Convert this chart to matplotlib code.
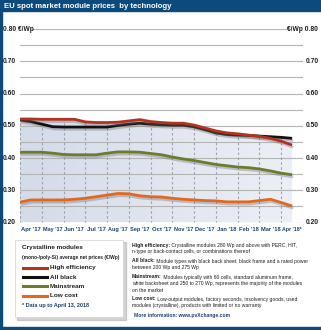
import numpy as np
import matplotlib
matplotlib.use("Agg")
import matplotlib.pyplot as plt
from matplotlib import patheffects as pe
from matplotlib import transforms
from matplotlib.patches import Rectangle, Polygon
from matplotlib.colors import LinearSegmentedColormap

plt.rcParams['font.family'] = ['Liberation Sans', 'DejaVu Sans']

# months on the x axis
months = ["Apr '17", "May '17", "Jun '17", "Jul '17", "Aug '17", "Sep '17", "Oct '17",
          "Nov '17", "Dec '17", "Jan '18", "Feb '18", "Mar '18", "Apr '18*"]

# price samples every half month, starting April 2017 (€/Wp)
t = [0, 0.5, 1, 1.5, 2, 2.5, 3, 3.5, 4, 4.5, 5, 5.5, 6, 6.5,
     7, 7.5, 8, 8.5, 9, 9.5, 10, 10.5, 11, 11.5, 12, 12.5]
high_eff = [0.521, 0.521, 0.520, 0.520, 0.520, 0.520, 0.512, 0.510, 0.510, 0.511, 0.515, 0.519, 0.513,
            0.510, 0.508, 0.508, 0.502, 0.493, 0.484, 0.478, 0.475, 0.471, 0.467, 0.461, 0.452, 0.440]
all_black = [0.518, 0.513, 0.505, 0.497, 0.496, 0.496, 0.496, 0.496, 0.496, 0.501, 0.505, 0.508, 0.505,
             0.503, 0.502, 0.502, 0.497, 0.488, 0.478, 0.473, 0.471, 0.470, 0.468, 0.466, 0.464, 0.461]
mainstream = [0.418, 0.418, 0.418, 0.415, 0.411, 0.410, 0.410, 0.410, 0.415, 0.419, 0.419, 0.418, 0.414,
              0.410, 0.403, 0.397, 0.392, 0.386, 0.380, 0.376, 0.372, 0.370, 0.366, 0.360, 0.353, 0.348]
low_cost = [0.263, 0.270, 0.270, 0.270, 0.270, 0.272, 0.275, 0.280, 0.285, 0.290, 0.289, 0.283, 0.280,
            0.279, 0.275, 0.272, 0.270, 0.268, 0.267, 0.264, 0.264, 0.264, 0.268, 0.272, 0.262, 0.251]

y_ticks = [0.70, 0.60, 0.50, 0.40, 0.30, 0.20]

series = [
    ("Low cost", low_cost, "#e2671f"),
    ("Mainstream", mainstream, "#6b7d2c"),
    ("All black", all_black, "#111111"),
    ("High efficiency", high_eff, "#b5321f"),
]
legend_order = ["High efficiency", "All black", "Mainstream", "Low cost"]

notes = [
    ("High efficiency:", " Crystalline modules 280 Wp and above with PERC, HIT,"),
    ("", "n-type or back-contact cells, or combinations thereof"),
    ("All black:", " Module types with black back sheet, black frame and a rated power"),
    ("", "between 200 Wp and 275 Wp"),
    ("Mainstream:", " Modules typically with 60 cells, standard aluminum frame,"),
    ("", "white backsheet and 250 to 270 Wp, represents the majority of the modules"),
    ("", "on the market"),
    ("Low cost:", " Low-output modules, factory seconds, insolvency goods, used"),
    ("", "modules (crystalline), products with limited or no warranty"),
]
note_y = [245, 252, 261, 268, 277, 284, 291, 299, 306]

BLUE = "#0b4a7a"
TEXT_BLUE = "#1d416f"
DARK = "#1e1e1e"
W, H = 321, 330

fig = plt.figure(figsize=(W / 100, H / 100), dpi=100)
renderer = fig.canvas.get_renderer()


def fx(px):
    return px / W


def fy(py):
    return 1 - py / H


def fit(txt, max_w):
    # shrink a text until it is no wider than max_w pixels
    w = txt.get_window_extent(renderer).width
    if w > max_w:
        txt.set_fontsize(txt.get_fontsize() * max_w / w)
    return txt


# frame: title bar, left rule, bottom rule
fig.patches.append(Rectangle((0, fy(11)), 1, 11 / H, transform=fig.transFigure, color=BLUE, zorder=0))
fig.patches.append(Rectangle((0, 0), 1.6 / W, fy(11), transform=fig.transFigure, color=BLUE, zorder=0))
fig.patches.append(Rectangle((0, 0), 1, 3 / H, transform=fig.transFigure, color=BLUE, zorder=0))
fit(fig.text(fx(3.5), fy(6), "EU spot market module prices  by technology", color="white",
             fontsize=6.5, fontweight="bold", va="center", ha="left"), 168)

ax = fig.add_axes([fx(20), fy(222.5), fx(303) - fx(20), fy(29) - fy(222.5)])
ax.axis("off")

# shaded area under the top curve
top = np.maximum(high_eff, all_black)
verts = [(t[0], 0.2)] + list(zip(t, top)) + [(t[-1], 0.2)]
area = Polygon(verts, closed=True, facecolor="none", edgecolor="none", transform=ax.transData)
ax.add_patch(area)
grad = LinearSegmentedColormap.from_list("shade", ["#d4dbe9", "#edf0f6"])
im = ax.imshow(np.linspace(0, 1, 256).reshape(1, -1), extent=[0, 13, 0.2, 0.8],
               aspect="auto", cmap=grad, zorder=1)
im.set_clip_path(area)

# horizontal grid
for v in np.arange(0.20, 0.751, 0.05):
    ax.axhline(v, color="#b4b4b4", lw=0.8, zorder=2)
ax.axhline(0.80, xmin=(32 - 20) / 283, xmax=(290 - 20) / 283, color="#b4b4b4", lw=0.8, zorder=2)

# dashed month separators inside the shaded area
for m in range(13):
    ln, = ax.plot([m, m], [0.2, 0.8], ls=(0, (2.2, 2.2)), color="#a2a2a6", lw=0.8, zorder=2)
    ln.set_clip_path(area)

shadow = [pe.SimpleLineShadow(offset=(0.8, -1.6), shadow_color="#6a6a6a", alpha=0.35), pe.Normal()]
for name, vals, col in series:
    ax.plot(t, vals, color=col, lw=2.0, solid_capstyle="butt", solid_joinstyle="round",
            path_effects=shadow, zorder=4)

ax.set_xlim(0, 13)
ax.set_ylim(0.2, 0.8)

# axis labels
tr = transforms.blended_transform_factory(fig.transFigure, ax.transData)
tick_kw = dict(fontsize=4.8, fontweight="bold", color=DARK, va="center")
for v in y_ticks:
    fig.text(fx(3), v, f"{v:.2f}", transform=tr, ha="left", **tick_kw)
    fig.text(fx(306), v, f"{v:.2f}", transform=tr, ha="left", **tick_kw)
fig.text(fx(3), 0.80, "0.80 €/Wp", transform=tr, ha="left", **tick_kw)
fig.text(fx(318), 0.80, "€/Wp 0.80", transform=tr, ha="right", **tick_kw)

trx = transforms.blended_transform_factory(ax.transData, fig.transFigure)
for i, lab in enumerate(months):
    fit(fig.text(i + 0.5, fy(229.5), lab, transform=trx, fontsize=4.4, fontweight="bold",
                 color=TEXT_BLUE, va="center", ha="center"), 19.5)

# legend box
fig.patches.append(Rectangle((fx(17), fy(320)), fx(109), 78 / H, transform=fig.transFigure,
                             color="#8a8a8a", alpha=0.35, zorder=1))
fig.patches.append(Rectangle((fx(15), fy(317)), fx(108), 77 / H, transform=fig.transFigure,
                             facecolor="white", edgecolor="#d0d0d0", lw=0.5, zorder=2))
fit(fig.text(fx(22), fy(248), "Crystalline modules", fontsize=4.6, fontweight="bold",
             color=DARK, va="center", zorder=3), 70)
fit(fig.text(fx(22), fy(258), "(mono-/poly-Si) average net prices (€/Wp)", fontsize=4.3,
             fontweight="bold", color=DARK, va="center", zorder=3), 98)
colors = {name: col for name, _, col in series}
for k, name in enumerate(legend_order):
    yy = fy(268 + 9.2 * k)
    fig.add_artist(plt.Line2D([fx(23), fx(47)], [yy, yy], color=colors[name], lw=2.2,
                              transform=fig.transFigure, zorder=3))
    fig.text(fx(50), yy, name, fontsize=4.6, fontweight="bold", color=DARK,
             va="center", zorder=3)
fit(fig.text(fx(22), fy(305), "* Data up to April 13, 2018", fontsize=4.4, fontweight="bold",
             color=TEXT_BLUE, va="center", zorder=3), 68)

# definitions, one common size so that the longest line fits the column
note_kw = dict(fontsize=4.6, color=DARK, va="center")
pieces = []
for (lead, rest), yy in zip(notes, note_y):
    a = fig.text(fx(132), fy(yy), lead, fontweight="bold", **note_kw) if lead else None
    b = fig.text(fx(132), fy(yy), rest, **note_kw)
    pieces.append((a, b))
widest = max((a.get_window_extent(renderer).width if a else 0) + b.get_window_extent(renderer).width
             for a, b in pieces)
size = note_kw["fontsize"] * min(1.0, 172 / widest)
for a, b in pieces:
    b.set_fontsize(size)
    if a is not None:
        a.set_fontsize(size)
        b.set_x(a.get_window_extent(renderer).x1 / fig.bbox.width)
fig.text(fx(134), fy(315), "More information: www.pvXchange.com", fontsize=size,
         fontweight="bold", color=TEXT_BLUE, va="center")

fig.savefig("out.png", dpi=100)
